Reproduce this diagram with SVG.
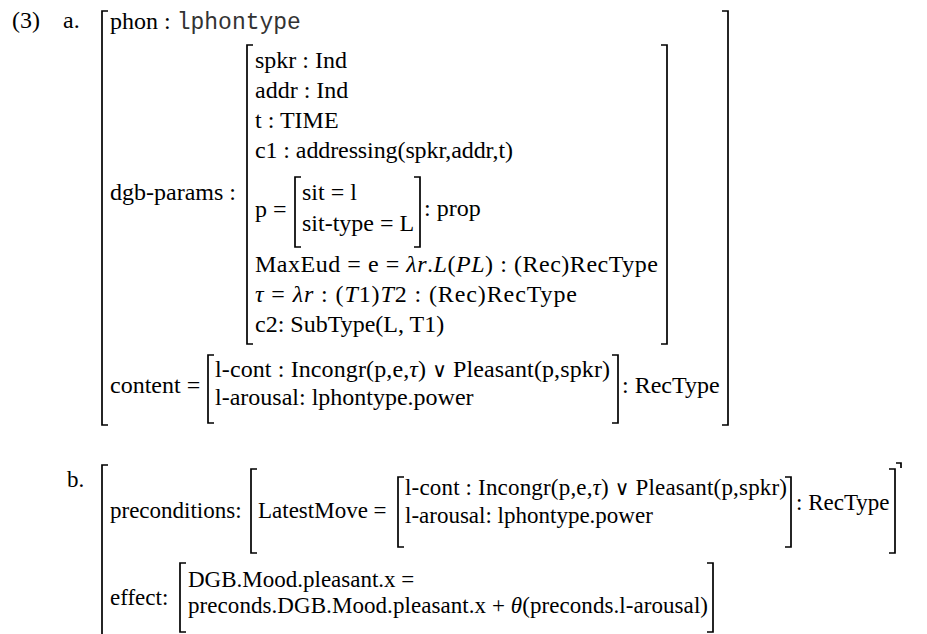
<svg xmlns="http://www.w3.org/2000/svg" width="927" height="634" viewBox="0 0 927 634">
<style>
text{font-family:"Liberation Serif","Times New Roman",serif;font-size:24px;fill:#000}
.b text{font-size:23px}
.m{font-family:"Liberation Mono","Courier New",monospace;font-size:23px;fill:#333}
.i{font-style:italic}
.or{font-family:"DejaVu Serif",serif;font-size:20px}
.br{fill:none;stroke:#000;stroke-width:1.7}
</style>
<rect width="927" height="634" fill="#fff"/>
<g id="example-a">
<text x="12" y="28">(3)</text>
<text x="63" y="28">a.</text>
<path class="br" d="M108 11H102V425H108"/>
<path class="br" d="M722 11H728V425H722"/>
<text x="110" y="29">phon : <tspan class="m">lphontype</tspan></text>
<text x="110" y="200">dgb-params :</text>
<g id="dgb-params">
<path class="br" d="M253 45H247V344H253"/>
<path class="br" d="M661 45H667V344H661"/>
<text x="255" y="68">spkr : Ind</text>
<text x="255" y="98">addr : Ind</text>
<text x="255" y="128">t : TIME</text>
<text x="255" y="158" textLength="258">c1 : addressing(spkr,addr,t)</text>
<text x="255" y="217">p =</text>
<path class="br" d="M301 177H295V247H301"/>
<path class="br" d="M414 177H420V247H414"/>
<text x="302" y="200">sit = l</text>
<text x="302" y="231">sit-type = L</text>
<text x="424" y="216">: prop</text>
<text x="255" y="272" textLength="403">MaxEud = e = <tspan class="i">λr</tspan>.<tspan class="i">L</tspan>(<tspan class="i">PL</tspan>) : (Rec)RecType</text>
<text x="255" y="302" textLength="322"><tspan class="i">τ</tspan> = <tspan class="i">λr</tspan> : (<tspan class="i">T</tspan>1)<tspan class="i">T</tspan>2 : (Rec)RecType</text>
<text x="255" y="332">c2: SubType(L, T1)</text>
</g>
<text x="110" y="393">content =</text>
<g id="content-a">
<path class="br" d="M214 355H208V423H214"/>
<path class="br" d="M612 355H618V423H612"/>
<text x="215" y="377" textLength="395">l-cont : Incongr(p,e,<tspan class="i">τ</tspan>) <tspan class="or">∨</tspan> Pleasant(p,spkr)</text>
<text x="215" y="405">l-arousal: lphontype.power</text>
<text x="622" y="393">: RecType</text>
</g>
</g>
<g id="example-b" class="b">
<text x="67" y="487">b.</text>
<path class="br" d="M108 465H102V660"/>
<path class="br" d="M896 463H901V468"/>
<text x="110" y="518">preconditions:</text>
<g id="preconditions">
<path class="br" d="M257 469H251V553H257"/>
<path class="br" d="M889 469H895V553H889"/>
<text x="258" y="518">LatestMove =</text>
<path class="br" d="M404 477H398V547H404"/>
<path class="br" d="M785 477H791V547H785"/>
<text x="405" y="495" textLength="382">l-cont : Incongr(p,e,<tspan class="i">τ</tspan>) <tspan class="or">∨</tspan> Pleasant(p,spkr)</text>
<text x="405" y="523">l-arousal: lphontype.power</text>
<text x="796" y="510">: RecType</text>
</g>
<text x="110" y="605">effect:</text>
<g id="effect">
<path class="br" d="M186 563H180V632H186"/>
<path class="br" d="M707 563H713V632H707"/>
<text x="188" y="587">DGB.Mood.pleasant.x =</text>
<text x="188" y="613" textLength="520">preconds.DGB.Mood.pleasant.x + <tspan class="i">θ</tspan>(preconds.l-arousal)</text>
</g>
</g>
</svg>
